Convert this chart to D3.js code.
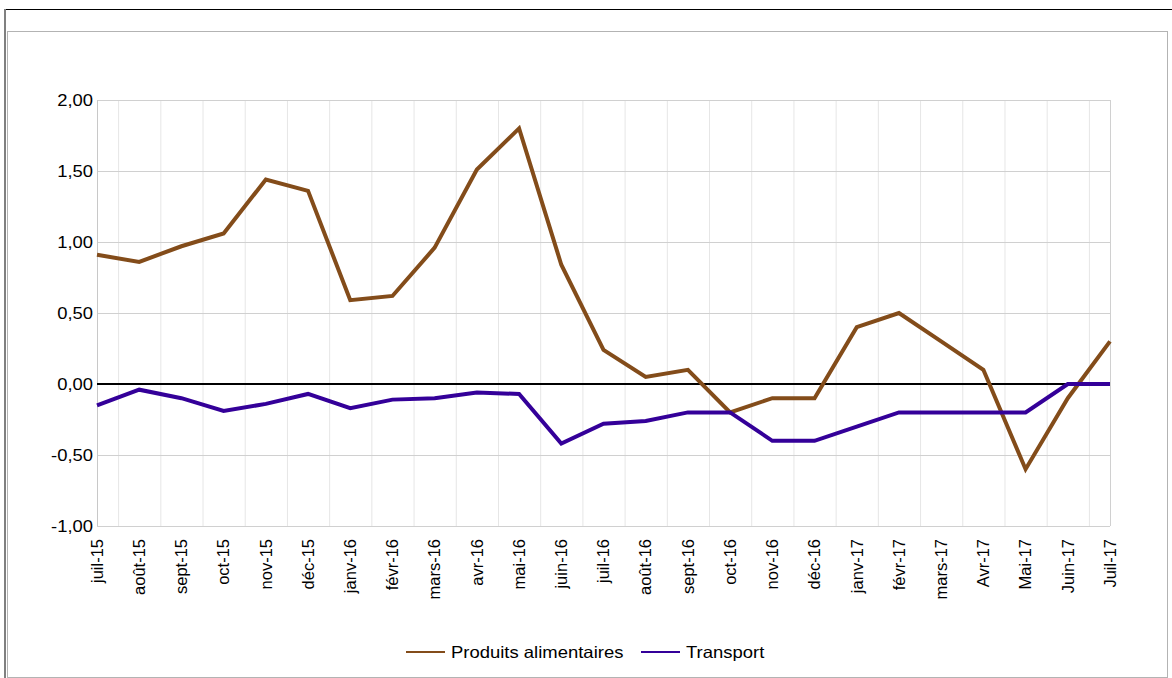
<!DOCTYPE html>
<html lang="fr">
<head>
<meta charset="UTF-8">
<script src="https://d3js.org/d3.v7.min.js"></script>
<style>
    body { margin: 0; background: white; }
    text { font-family: "Liberation Sans", Arial, sans-serif; fill: #000; }
</style>
</head>
<body>
<script>
    // ---- data ----
    const months = ["juil-15", "août-15", "sept-15", "oct-15", "nov-15", "déc-15",
        "janv-16", "févr-16", "mars-16", "avr-16", "mai-16", "juin-16",
        "juil-16", "août-16", "sept-16", "oct-16", "nov-16", "déc-16",
        "janv-17", "févr-17", "mars-17", "Avr-17", "Mai-17", "Juin-17", "Juil-17"]

    const produits = [0.91, 0.86, 0.97, 1.06, 1.44, 1.36,
        0.59, 0.62, 0.96, 1.51, 1.80, 0.84,
        0.24, 0.05, 0.10, -0.20, -0.10, -0.10,
        0.40, 0.50, 0.30, 0.10, -0.60, -0.10, 0.30]

    const transport = [-0.15, -0.04, -0.10, -0.19, -0.14, -0.07,
        -0.17, -0.11, -0.10, -0.06, -0.07, -0.42,
        -0.28, -0.26, -0.20, -0.20, -0.40, -0.40,
        -0.30, -0.20, -0.20, -0.20, -0.20, 0.00, 0.00]

    const yTicks = [-1, -0.5, 0, 0.5, 1, 1.5, 2]

    const series = [
        { name: "Produits alimentaires", values: produits, color: "#834c1a" },
        { name: "Transport", values: transport, color: "#340099" }
    ]

    // ---- layout ----
    const W = 1172, H = 678
    const plot = { left: 97, right: 1110, top: 100, bottom: 526 }
    const stretch = 1.15 // horizontal text looks widened in the original

    const svg = d3.select("body").append("svg")
        .attr("width", W)
        .attr("height", H)

    // frames
    svg.append("rect")
        .attr("x", 7.5).attr("y", 31.5)
        .attr("width", 1160).attr("height", 646)
        .attr("fill", "none").attr("stroke", "#b3b3b3")
    svg.append("line")
        .attr("x1", 4).attr("x2", W).attr("y1", 9.5).attr("y2", 9.5)
        .attr("stroke", "#000")
    svg.append("line")
        .attr("x1", 5).attr("x2", 5).attr("y1", 9).attr("y2", H)
        .attr("stroke", "#808080").attr("stroke-width", 2)

    // ---- scales ----
    const x = d3.scalePoint()
        .domain(months)
        .range([plot.left, plot.right])

    const y = d3.scaleLinear()
        .domain([-1, 2])
        .range([plot.bottom, plot.top])

    const step = x.step()

    // vertical gridlines between categories
    svg.append("g")
        .selectAll("line")
        .data(months.slice(1))
        .join("line")
        .attr("x1", d => x(d) - step / 2 + 0.5)
        .attr("x2", d => x(d) - step / 2 + 0.5)
        .attr("y1", plot.top)
        .attr("y2", plot.bottom)
        .attr("stroke", "#e6e6e6")

    // horizontal gridlines
    svg.append("g")
        .selectAll("line")
        .data(yTicks)
        .join("line")
        .attr("x1", plot.left)
        .attr("x2", plot.right)
        .attr("y1", d => Math.round(y(d)) + 0.5)
        .attr("y2", d => Math.round(y(d)) + 0.5)
        .attr("stroke", "#d0d0d0")

    // plot border sides
    svg.append("line")
        .attr("x1", plot.left + 0.5).attr("x2", plot.left + 0.5)
        .attr("y1", plot.top).attr("y2", plot.bottom)
        .attr("stroke", "#c8c8c8")
    svg.append("line")
        .attr("x1", plot.right + 0.5).attr("x2", plot.right + 0.5)
        .attr("y1", plot.top).attr("y2", plot.bottom)
        .attr("stroke", "#d0d0d0")

    // zero line
    svg.append("line")
        .attr("x1", plot.left).attr("x2", plot.right)
        .attr("y1", y(0)).attr("y2", y(0))
        .attr("stroke", "#000").attr("stroke-width", 2)

    // y tick labels
    const fmt = v => d3.format(".2f")(v).replace(".", ",").replace("−", "-")
    svg.append("g")
        .selectAll("text")
        .data(yTicks)
        .join("text")
        .attr("transform", d => `translate(${plot.left - 4},${y(d)}) scale(${stretch},1)`)
        .attr("dy", "0.35em")
        .attr("text-anchor", "end")
        .attr("font-size", 16)
        .text(d => fmt(d))

    // x tick labels (rotated)
    svg.append("g")
        .selectAll("text")
        .data(months)
        .join("text")
        .attr("transform", d => `translate(${x(d)},${plot.bottom + 13}) rotate(-90)`)
        .attr("dy", "0.35em")
        .attr("text-anchor", "end")
        .attr("font-size", 16.5)
        .text(d => d)

    // ---- lines ----
    const line = d3.line()
        .x((d, i) => x(months[i]))
        .y(d => y(d))

    svg.append("g")
        .selectAll("path")
        .data(series)
        .join("path")
        .attr("d", d => line(d.values))
        .attr("fill", "none")
        .attr("stroke", d => d.color)
        .attr("stroke-width", 4)
        .attr("stroke-linejoin", "miter")

    // ---- legend ----
    const legendPos = [406, 641]
    const legend = svg.append("g")
        .selectAll("g")
        .data(series)
        .join("g")
        .attr("transform", (d, i) => `translate(${legendPos[i]},652)`)
    legend.append("line")
        .attr("x1", 0).attr("x2", 39)
        .attr("stroke", d => d.color)
        .attr("stroke-width", 2)
    legend.append("text")
        .attr("transform", `translate(45,0) scale(1.12,1)`)
        .attr("dy", "0.35em")
        .attr("font-size", 16.5)
        .text(d => d.name)
</script>
</body>
</html>
